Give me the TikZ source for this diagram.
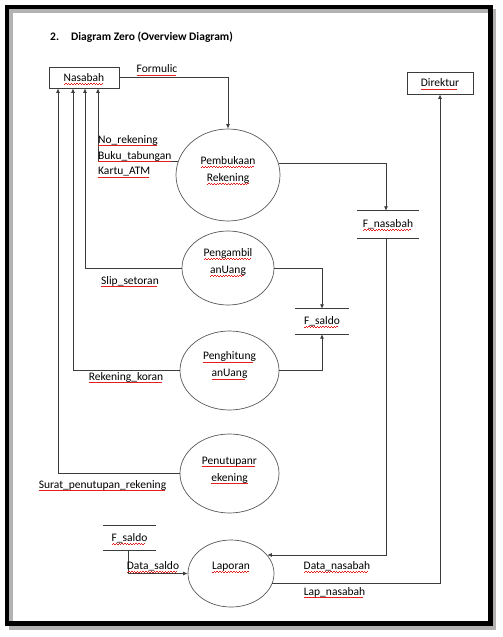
\documentclass[tikz,border=0pt]{standalone}
\usepackage{fontspec}
\setmainfont{Carlito}
\usetikzlibrary{shapes.geometric,arrows.meta}

% soulignement ondulé rouge (correcteur)
\newsavebox\vagbox
\newcommand\vague{\hbox{\rule{1.4pt}{0.7pt}\rule[0.7pt]{1.4pt}{0.7pt}}}
\newcommand\redwave[1]{\sbox\vagbox{#1}\usebox\vagbox\llap{\textcolor{faute}{\raisebox{-3pt}[0pt][0pt]{\hbox to \wd\vagbox{\leaders\vague\hfill}}}}}

\begin{document}
\begin{tikzpicture}[x=1pt,y=-1pt,font=\fontsize{11.5}{17}\selectfont,
  ligne/.style={draw=trait, line width=0.8pt},
  fleche/.style={ligne, -{Latex[length=4.5pt,width=4pt]}},
  entite/.style={ligne, inner sep=0, minimum width=70, minimum height=21},
  processus/.style={ellipse, draw=trait!85, line width=0.7pt, inner sep=0, align=center},
  stock/.style={inner sep=0, append after command={(\tikzlastnode.north west) edge[ligne] (\tikzlastnode.north east)
    (\tikzlastnode.south west) edge[ligne] (\tikzlastnode.south east)}},
  texte/.style={inner sep=1pt}]
  % Couleurs
  \definecolor{trait}{RGB}{60,60,60}
  \definecolor{faute}{RGB}{230,30,30}

  % Cadre
  \fill[white] (0,0) rectangle (503,637);
  \draw[black!30, line width=4.5] (11,11) rectangle (494,627.5);
  \draw[black, line width=4.5] (7,7) rectangle (490.5,623.5);

  % Titre
  \node[anchor=west, inner sep=0] (titre) at (50,37) {\bfseries 2.\hspace{12pt}Diagram Zero (Overview Diagram)};

  % Entités externes
  \node[entite] (nas) at (84,77.5) {\redwave{Nasabah}};
  \node[entite, minimum width=66, minimum height=22] (dir) at (440,83) {\redwave{Direktur}};

  % Processus
  \node[processus, minimum width=104, minimum height=92, text depth=12pt] (pem) at (228,175) {\redwave{Pembukaan}\\\redwave{Rekening}};
  \node[processus, minimum width=92, minimum height=74, text depth=14pt] (amb) at (228,268) {\redwave{Pengambil}\\\redwave{anUang}};
  \node[processus, minimum width=99, minimum height=79, text depth=12pt] (hit) at (229.5,370.5) {\redwave{Penghitung}\\\redwave{anUang}};
  \node[processus, minimum width=99, minimum height=79, text depth=9pt] (tut) at (229.5,473.5) {\redwave{Penutupanr}\\\redwave{ekening}};
  \node[processus, minimum width=86, minimum height=67, text depth=15pt] (lap) at (231,573.5) {\redwave{Laporan}};

  % Stockages
  \node[stock, minimum width=62, minimum height=27] (fnas) at (388,224.5) {\redwave{F\_nasabah}};
  \node[stock, minimum width=54, minimum height=25] (fsal) at (322,321.5) {\redwave{F\_saldo}};
  \node[stock, minimum width=53, minimum height=24] (fsal2) at (129.5,538) {\redwave{F\_saldo}};

  % Flux
  \draw[fleche] (nas.east) -| (pem.north);
  \draw[fleche] (pem.165) -| ([xshift=14]nas.south);
  \draw[fleche] (amb.west) -| ([xshift=1]nas.south);
  \draw[fleche] (hit.west) -| ([xshift=-11]nas.south);
  \draw[fleche] (tut.west) -| ([xshift=-26]nas.south);
  \draw[fleche] (pem.13) -| ([xshift=-2]fnas.north);
  \draw[fleche] (amb.east) -| (fsal.north);
  \draw[fleche] (hit.east) -| (fsal.south);
  \draw[fleche] ([xshift=-2]fnas.south) |- (lap.27);
  \draw[fleche] (lap.-14) -| (dir.south);
  \draw[fleche] ([xshift=-1.5]fsal2.south) |- (lap.west);

  % Étiquettes
  \node[texte] (form) at (157,69) {\redwave{Formulic}};
  \node[texte, anchor=west] (norek) at (97,140) {\redwave{No\_rekening}};
  \node[texte, anchor=west] (buku) at (97,156) {\redwave{Buku\_tabungan}};
  \node[texte, anchor=west] (kartu) at (97,172) {\redwave{Kartu\_ATM}};
  \node[texte] (slip) at (130,281) {\redwave{Slip\_setoran}};
  \node[texte] (rekor) at (126,377) {\redwave{Rekening\_koran}};
  \node[texte] (surat) at (102.5,485) {\redwave{Surat\_penutupan\_rekening}};
  \node[texte] (dsal) at (153,566) {\redwave{Data\_saldo}};
  \node[texte] (dnas) at (337,566) {\redwave{Data\_nasabah}};
  \node[texte] (lnas) at (334.5,592) {\redwave{Lap\_nasabah}};
\end{tikzpicture}
\end{document}
